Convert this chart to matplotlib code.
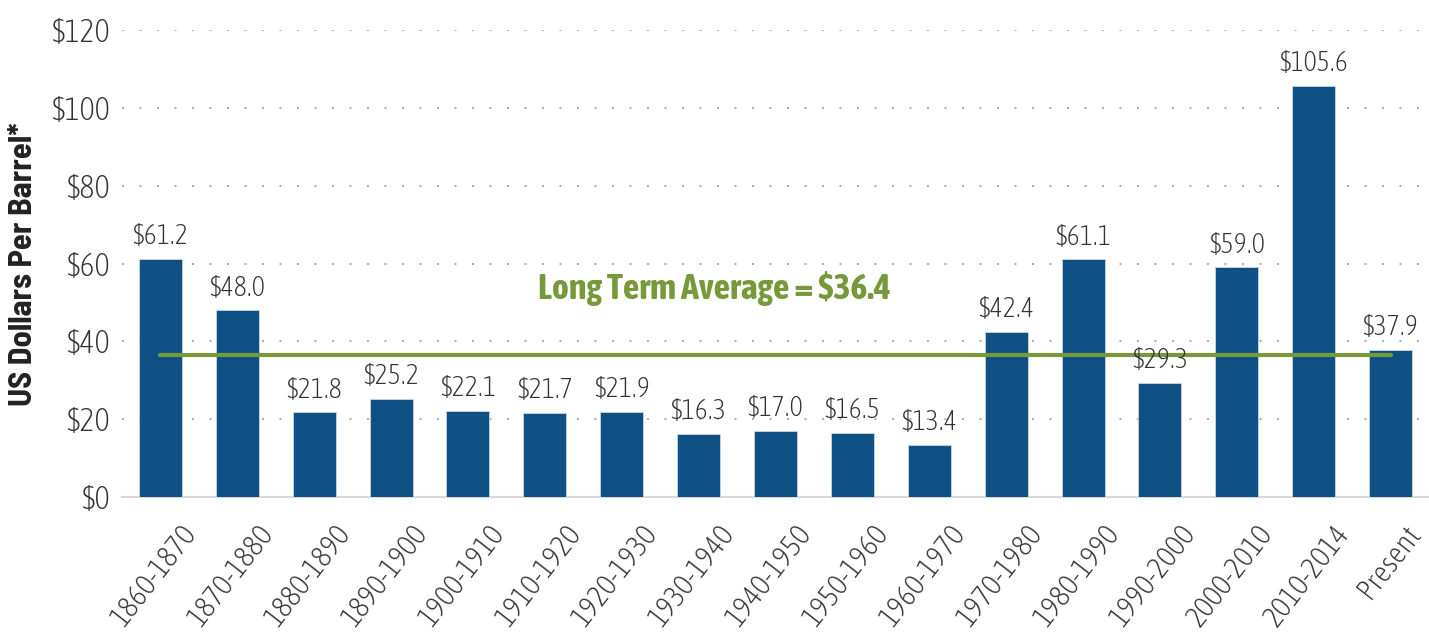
import matplotlib
matplotlib.use('Agg')
import matplotlib.pyplot as plt
import matplotlib.transforms as mtransforms

periods = ['1860-1870', '1870-1880', '1880-1890', '1890-1900', '1900-1910',
           '1910-1920', '1920-1930', '1930-1940', '1940-1950', '1950-1960',
           '1960-1970', '1970-1980', '1980-1990', '1990-2000', '2000-2010',
           '2010-2014', 'Present']
prices = [61.2, 48.0, 21.8, 25.2, 22.1, 21.7, 21.9, 16.3, 17.0, 16.5,
          13.4, 42.4, 61.1, 29.3, 59.0, 105.6, 37.9]
long_term_avg = 36.4
yticks = [0, 20, 40, 60, 80, 100, 120]

plt.rcParams['font.family'] = ['Asap Condensed', 'DejaVu Sans']

bar_color = '#0E5083'
green = '#77993A'
text_color = '#333333'

fig = plt.figure(figsize=(14.29, 6.34), dpi=100)
ax = fig.add_axes([122 / 1429, 1 - 497 / 634, 1 - 122 / 1429, 467 / 634])

x = list(range(len(periods)))
ax.bar(x, prices, width=0.56, color=bar_color, edgecolor='#C9D6E3', linewidth=0.6, zorder=3)

for xi, v in zip(x, prices):
    ax.text(xi, v + 2.2, f'${v:.1f}', ha='center', va='bottom', fontsize=20, fontweight='light',
            color=text_color, zorder=5)

ax.plot([x[0], x[-1]], [long_term_avg, long_term_avg], color=green, lw=3, zorder=4,
        solid_capstyle='round')
ax.text(7.2, 53.7, f'Long Term Average = ${long_term_avg}', ha='center', va='center',
        fontsize=26, fontweight='bold', color=green)

ax.set_xlim(-0.5, len(periods) - 0.5)
ax.set_ylim(0, 120)
ax.set_yticks(yticks)
ax.set_yticklabels([f'${t}' for t in yticks], fontsize=23, fontweight='light', color=text_color)
ax.set_xticks(x)
ax.set_xticklabels(periods, rotation=52, ha='right', rotation_mode='anchor',
                   fontsize=21.5, fontweight='light', color=text_color)
ax.tick_params(axis='both', length=0)
ax.tick_params(axis='y', pad=8)
ax.tick_params(axis='x', pad=16)
# shift the slanted labels so they end near the bar's right edge
labels = ax.get_xticklabels()
for i, lab in enumerate(labels):
    dx = 13 if i == len(labels) - 1 else 19
    lab.set_transform(lab.get_transform() + mtransforms.ScaledTranslation(dx / 100, 0, fig.dpi_scale_trans))

ax.grid(axis='y', color='#AAAAAA', linestyle=(0, (1, 8)), linewidth=1.4, zorder=0)
ax.set_axisbelow(True)
for s in ['top', 'right', 'left']:
    ax.spines[s].set_visible(False)
ax.spines['bottom'].set_color('#D8D8D8')
ax.spines['bottom'].set_linewidth(1.5)

fig.text(24 / 1429, 1 - 264 / 634, 'US Dollars Per Barrel*', rotation=90, ha='center', va='center',
         fontsize=23.5, fontweight='bold', color='#222222',
         family=['Barlow Semi Condensed', 'DejaVu Sans'])

fig.savefig('out.png', dpi=100, facecolor='white')
